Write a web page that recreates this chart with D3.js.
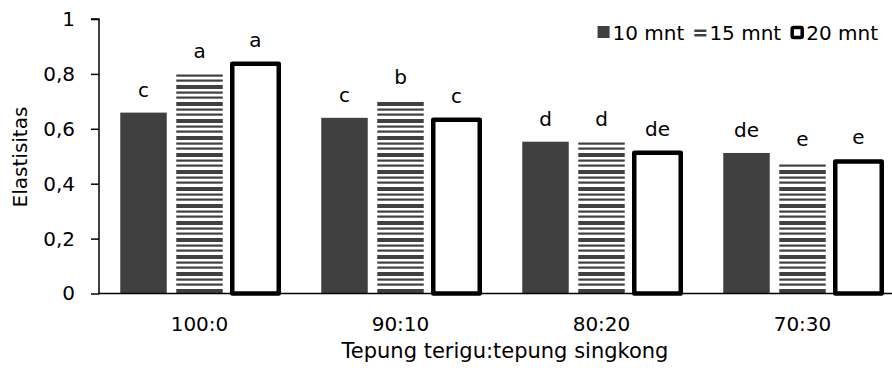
<!DOCTYPE html>
<html>
<head>
<meta charset="utf-8">
<script src="https://cdn.jsdelivr.net/npm/d3@7"></script>
<style>
  body { margin: 0; background: #fff; }
  text { font-family: "DejaVu Sans", sans-serif; fill: #000; }
</style>
</head>
<body>
<div id="graph"></div>
<script>
// data
var categories = ["100:0", "90:10", "80:20", "70:30"];
var seriesNames = ["10 mnt", "15 mnt", "20 mnt"];
var values10 = [0.659, 0.640, 0.553, 0.512];
var values15 = [0.800, 0.705, 0.553, 0.479];
var values20 = [0.837, 0.633, 0.513, 0.481];
var letters10 = ["c", "c", "d", "de"];
var letters15 = ["a", "b", "d", "e"];
var letters20 = ["a", "c", "de", "e"];
var yTicks = [0, 0.2, 0.4, 0.6, 0.8, 1];

var width = 892, height = 371;
var dark = "#404040";
var fontSize = "20px";

var svg = d3.select("#graph").append("svg")
    .attr("width", width)
    .attr("height", height);

// stripe pattern for the 15 mnt bars
var defs = svg.append("defs");
var pat = defs.append("pattern")
    .attr("id", "stripes")
    .attr("patternUnits", "userSpaceOnUse")
    .attr("width", 8).attr("height", 17);
pat.append("rect").attr("x", 0).attr("y", 0).attr("width", 8).attr("height", 4).attr("fill", dark);
pat.append("rect").attr("x", 0).attr("y", 6.5).attr("width", 8).attr("height", 2.2).attr("fill", dark);
pat.append("rect").attr("x", 0).attr("y", 11.5).attr("width", 8).attr("height", 2.2).attr("fill", dark);

var xScale = d3.scaleBand()
    .domain(categories)
    .range([99, 99 + 4 * 201]);

var xInner = d3.scaleBand()
    .domain(seriesNames)
    .range([-84, 84])
    .paddingInner(0.17)
    .paddingOuter(0.085);

var yScale = d3.scaleLinear()
    .domain([0, 1])
    .range([293.5, 19]);

// y axis
var yAxis = svg.append("g")
    .attr("transform", "translate(99,0)")
    .call(d3.axisLeft(yScale)
        .tickValues(yTicks)
        .tickSize(8)
        .tickPadding(16)
        .tickFormat(function(d) { return d3.format(".1~f")(d).replace(".", ","); }));
yAxis.select(".domain").attr("stroke", "#000").attr("stroke-width", 1.5).attr("d", "M-8,19H0V293.5");
yAxis.selectAll(".tick line").attr("stroke", "#000").attr("stroke-width", 1.5);
yAxis.selectAll(".tick text").style("font-size", fontSize).attr("font-family", null);

var series = [
    { name: seriesNames[0], values: values10, letters: letters10 },
    { name: seriesNames[1], values: values15, letters: letters15 },
    { name: seriesNames[2], values: values20, letters: letters20 }
];

var groups = svg.selectAll(".group")
    .data(categories)
    .enter().append("g")
    .attr("class", "group")
    .attr("transform", function(d) { return "translate(" + (xScale(d) + xScale.bandwidth() / 2) + ",0)"; });

groups.each(function(cat, ci) {
    var g = d3.select(this);
    series.forEach(function(s, si) {
        var v = s.values[ci];
        var x = xInner(s.name), w = xInner.bandwidth();
        var r = g.append("rect")
            .attr("x", x)
            .attr("y", yScale(v))
            .attr("width", w)
            .attr("height", yScale(0) - yScale(v));
        if (si === 0) r.attr("fill", dark);
        else if (si === 1) r.attr("fill", "url(#stripes)");
        else r.attr("fill", "#fff").attr("stroke", "#000").attr("stroke-width", 4.5).attr("stroke-linejoin", "round");

        g.append("text")
            .attr("x", x + w / 2)
            .attr("y", yScale(v) - (si === 2 ? 17 : 16))
            .attr("text-anchor", "middle")
            .style("font-size", fontSize)
            .text(s.letters[ci]);
    });
});

// x axis line
svg.append("line")
    .attr("x1", 98).attr("x2", width)
    .attr("y1", yScale(0)).attr("y2", yScale(0))
    .attr("stroke", "#000").attr("stroke-width", 1.5);

// category labels
svg.selectAll(".xlab")
    .data(categories)
    .enter().append("text")
    .attr("class", "xlab")
    .attr("x", function(d) { return xScale(d) + xScale.bandwidth() / 2; })
    .attr("y", 331)
    .attr("text-anchor", "middle")
    .style("font-size", fontSize)
    .text(function(d) { return d; });

// axis titles
svg.append("text")
    .attr("x", 505).attr("y", 358)
    .attr("text-anchor", "middle")
    .style("font-size", "21px")
    .text("Tepung terigu:tepung singkong");

svg.append("text")
    .attr("transform", "translate(27,157) rotate(-90)")
    .attr("text-anchor", "middle")
    .style("font-size", fontSize)
    .text("Elastisitas");

// legend, laid out from the right
var legend = svg.append("g");
var legendRight = 878, legendY = 40, cursor = legendRight;
for (var i = seriesNames.length - 1; i >= 0; i--) {
    var t = legend.append("text")
        .attr("y", legendY)
        .style("font-size", fontSize)
        .text(seriesNames[i]);
    var tw = t.node().getComputedTextLength();
    cursor -= tw;
    t.attr("x", cursor);
    var mx = cursor - 16;
    if (i === 0) {
        legend.append("rect").attr("x", mx + 1).attr("y", legendY - 14).attr("width", 12).attr("height", 12).attr("fill", dark);
    } else if (i === 1) {
        legend.append("rect").attr("x", mx + 1).attr("y", legendY - 10.5).attr("width", 12).attr("height", 2.5).attr("fill", dark);
        legend.append("rect").attr("x", mx + 1).attr("y", legendY - 6).attr("width", 12).attr("height", 2.5).attr("fill", dark);
    } else {
        legend.append("rect").attr("x", mx + 2).attr("y", legendY - 12.5).attr("width", 10).attr("height", 10)
            .attr("fill", "#fff").attr("stroke", "#000").attr("stroke-width", 3.5).attr("rx", 1.5);
    }
    cursor = mx - 9;
}
</script>
</body>
</html>
